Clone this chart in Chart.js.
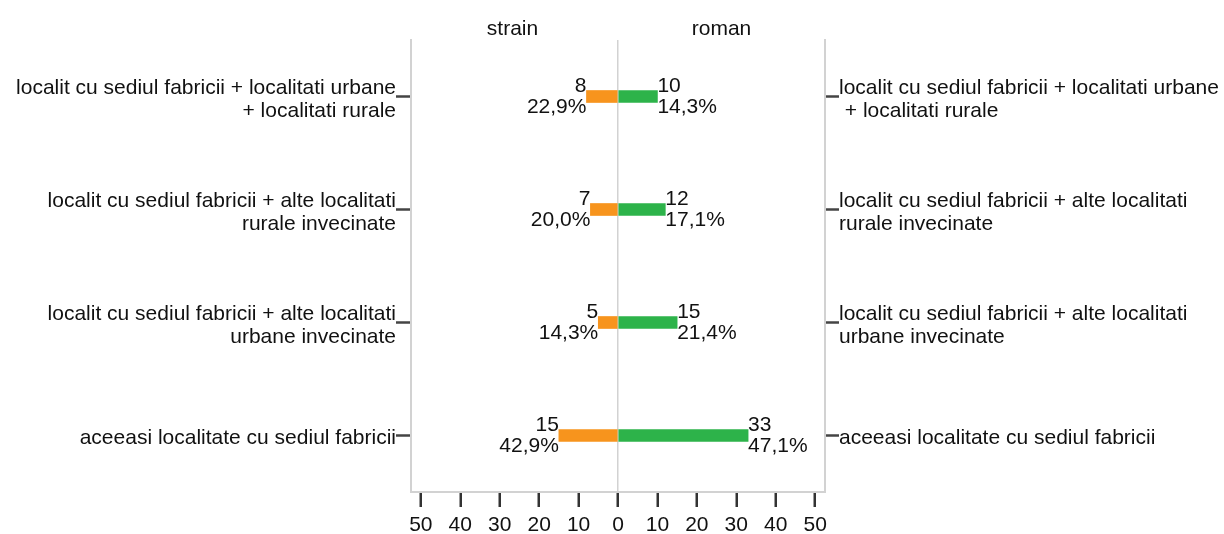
<!DOCTYPE html>
<html><head><meta charset="utf-8">
<script src="https://cdn.jsdelivr.net/npm/chart.js@4/dist/chart.umd.min.js"></script>
<style>html,body{margin:0;padding:0;background:#fff;} #wrap{width:1224px;height:534px;position:relative;}</style>
</head><body><div id="wrap"><canvas id="c"></canvas></div>
<script>
const categoriesLeft = [
  ["localit cu sediul fabricii + localitati urbane", "+ localitati rurale"],
  ["localit cu sediul fabricii + alte localitati", "rurale invecinate"],
  ["localit cu sediul fabricii + alte localitati", "urbane invecinate"],
  "aceeasi localitate cu sediul fabricii"
];
const categoriesRight = [
  ["localit cu sediul fabricii + localitati urbane", " + localitati rurale"],
  ["localit cu sediul fabricii + alte localitati", "rurale invecinate"],
  ["localit cu sediul fabricii + alte localitati", "urbane invecinate"],
  "aceeasi localitate cu sediul fabricii"
];
const strainCounts = [8, 7, 5, 15];
const romanCounts = [10, 12, 15, 33];
const strainPct = ["22,9%", "20,0%", "14,3%", "42,9%"];
const romanPct = ["14,3%", "17,1%", "21,4%", "47,1%"];
const panelTitles = ["strain", "roman"];
const xTickValues = [-50, -40, -30, -20, -10, 0, 10, 20, 30, 40, 50];

const FONT = '"Liberation Sans", Arial, sans-serif';
const TEXT = '#111111';
const FRAME = '#d2d2d2';

const labelsPlugin = {
  id: 'barLabels',
  afterDatasetsDraw(chart) {
    const ctx = chart.ctx;
    ctx.save();
    ctx.font = '21px ' + FONT;
    ctx.fillStyle = TEXT;
    ctx.textBaseline = 'middle';
    const sets = [[strainCounts, strainPct, 'right'], [romanCounts, romanPct, 'left']];
    sets.forEach((s, di) => {
      const meta = chart.getDatasetMeta(di);
      meta.data.forEach((el, i) => {
        ctx.textAlign = s[2];
        ctx.fillText(String(s[0][i]), el.x, el.y - 10);
        ctx.fillText(s[1][i], el.x, el.y + 11);
      });
    });
    ctx.restore();
  }
};

const titlePlugin = {
  id: 'panelTitles',
  afterDraw(chart) {
    const ctx = chart.ctx;
    const a = chart.chartArea;
    const xs = chart.scales.x;
    const zero = xs.getPixelForValue(0);
    ctx.save();
    ctx.font = '21px ' + FONT;
    ctx.fillStyle = TEXT;
    ctx.textAlign = 'center';
    ctx.textBaseline = 'alphabetic';
    ctx.fillText(panelTitles[0], (a.left + zero) / 2 - 2, a.top - 5);
    ctx.fillText(panelTitles[1], (zero + a.right) / 2, a.top - 5);
    ctx.restore();
  }
};

new Chart(document.getElementById('c'), {
  type: 'bar',
  data: {
    labels: categoriesLeft,
    datasets: [
      { label: panelTitles[0], data: strainCounts.map(v => -v), backgroundColor: '#F7941D', grouped: false, barThickness: 12, yAxisID: 'y' },
      { label: panelTitles[1], data: romanCounts, backgroundColor: '#2DB34A', grouped: false, barThickness: 12, yAxisID: 'y' }
    ]
  },
  options: {
    indexAxis: 'y',
    responsive: true,
    maintainAspectRatio: false,
    animation: false,
    layout: { padding: { top: 40, left: 0, right: 0, bottom: 0 } },
    plugins: { legend: { display: false }, tooltip: { enabled: false } },
    scales: {
      x: {
        type: 'linear', min: -52.5, max: 52.5,
        afterBuildTicks: s => { s.ticks = xTickValues.map(v => ({ value: v })); },
        afterFit: s => { s.height = 42; },
        ticks: { callback: v => Math.abs(v), font: { family: FONT, size: 21 }, color: TEXT, padding: 6, autoSkip: false, maxRotation: 0 },
        grid: {
          color: c => (c.tick && c.tick.value === 0) ? FRAME : 'rgba(0,0,0,0)',
          lineWidth: 1.5, tickColor: '#333', tickWidth: 2.5, tickLength: 15, drawOnChartArea: true
        },
        border: { display: true, color: FRAME, width: 2 }
      },
      y: {
        type: 'category', position: 'left', offset: true,
        afterFit: s => { s.width = 411; },
        ticks: { font: { family: FONT, size: 21, lineHeight: 1.1 }, color: TEXT, padding: 0, labelOffset: 3, autoSkip: false },
        grid: { offset: false, drawOnChartArea: false, tickLength: 15, tickColor: '#444', tickWidth: 2.5 },
        border: { display: true, color: FRAME, width: 2 }
      },
      y2: {
        type: 'category', position: 'right', offset: true, labels: categoriesRight,
        afterFit: s => { s.width = 399; },
        ticks: { font: { family: FONT, size: 21, lineHeight: 1.1 }, color: TEXT, padding: 0, labelOffset: 3, autoSkip: false },
        grid: { offset: false, drawOnChartArea: false, tickLength: 14, tickColor: '#444', tickWidth: 2.5 },
        border: { display: true, color: FRAME, width: 2 }
      }
    }
  },
  plugins: [labelsPlugin, titlePlugin]
});
</script>
</body></html>
